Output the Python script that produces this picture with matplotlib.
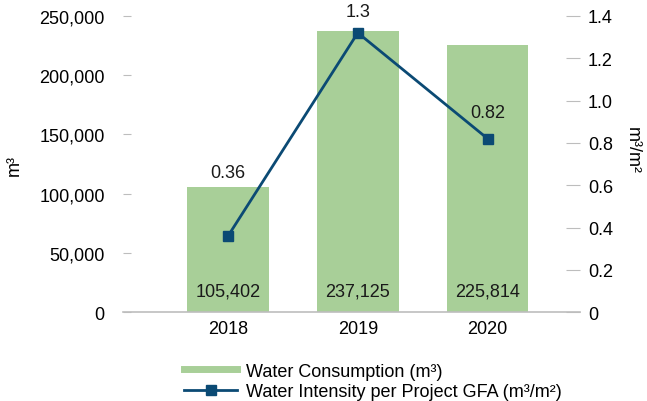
import matplotlib.pyplot as plt
from matplotlib.lines import Line2D

plt.rcParams['font.family'] = ['Liberation Sans', 'DejaVu Sans']

# Datos
years = ['2018', '2019', '2020']
consumption = [105402, 237125, 225814]
intensity = [0.36, 1.32, 0.82]
intensity_labels = ['0.36', '1.3', '0.82']

green = '#A8CF98'
navy = '#0B4A74'
grey = '#BDBDBD'
fs = 13

fig = plt.figure(figsize=(6.47, 4.02), dpi=100)
ax = fig.add_axes([0.190, 0.221, 0.706, 0.737])
ax2 = ax.twinx()

x = list(range(len(years)))
ax.bar(x, consumption, width=0.63, color=green, zorder=2)
ax2.plot(x, intensity, color=navy, lw=2, marker='s', markersize=7, zorder=3)

# Etiquetas de barras
for xi, v in zip(x, consumption):
    ax.annotate(f'{v:,}', (xi, 0), xytext=(0, 15), textcoords='offset points',
                ha='center', va='center', fontsize=fs, color='#1a1a1a')

# Etiquetas de la línea
offsets = [46, 15, 19]
for xi, v, lab, off in zip(x, intensity, intensity_labels, offsets):
    ax2.annotate(lab, (xi, v), xytext=(0, off), textcoords='offset points',
                 ha='center', va='center', fontsize=fs, color='#1a1a1a')

ax.set_xlim(-0.81, 2.71)
ax.set_ylim(0, 250000)
ax2.set_ylim(0, 1.4)
ax.set_yticks(range(0, 250001, 50000))
ax.set_yticklabels([f'{t:,}' for t in range(0, 250001, 50000)])
ax2.set_yticks([0, 0.2, 0.4, 0.6, 0.8, 1.0, 1.2, 1.4])
ax2.set_yticklabels(['0', '0.2', '0.4', '0.6', '0.8', '1.0', '1.2', '1.4'])
ax.set_xticks(x)
ax.set_xticklabels(years)

for a in (ax, ax2):
    for s in ['top', 'left', 'right', 'bottom']:
        a.spines[s].set_visible(False)
ax.spines['bottom'].set_visible(True)
ax.spines['bottom'].set_color(grey)
ax.spines['bottom'].set_linewidth(1.2)

ax.tick_params(axis='y', direction='in', length=6, color=grey, pad=13, labelsize=fs)
ax2.tick_params(axis='y', direction='in', length=10, color=grey, pad=6, labelsize=fs)
ax.tick_params(axis='x', length=0, pad=6, labelsize=fs)

ax.set_ylabel('m³', fontsize=fs)
ax.yaxis.set_label_coords(-0.22, 0.5)
ax2.set_ylabel('m³/m²', fontsize=fs, rotation=270, va='center')
ax2.yaxis.set_label_coords(1.115, 0.55)

handles = [Line2D([], [], color=green, lw=5),
           Line2D([], [], color=navy, lw=2, marker='s', markersize=7)]
labels = ['Water Consumption (m³)', 'Water Intensity per Project GFA (m³/m²)']
fig.legend(handles, labels, loc='upper left', bbox_to_anchor=(0.285, 0.095),
           frameon=False, fontsize=fs, handlelength=2.9, handletextpad=0.5,
           labelspacing=0.2, borderpad=0, borderaxespad=0)

fig.savefig('out.png', dpi=100)
